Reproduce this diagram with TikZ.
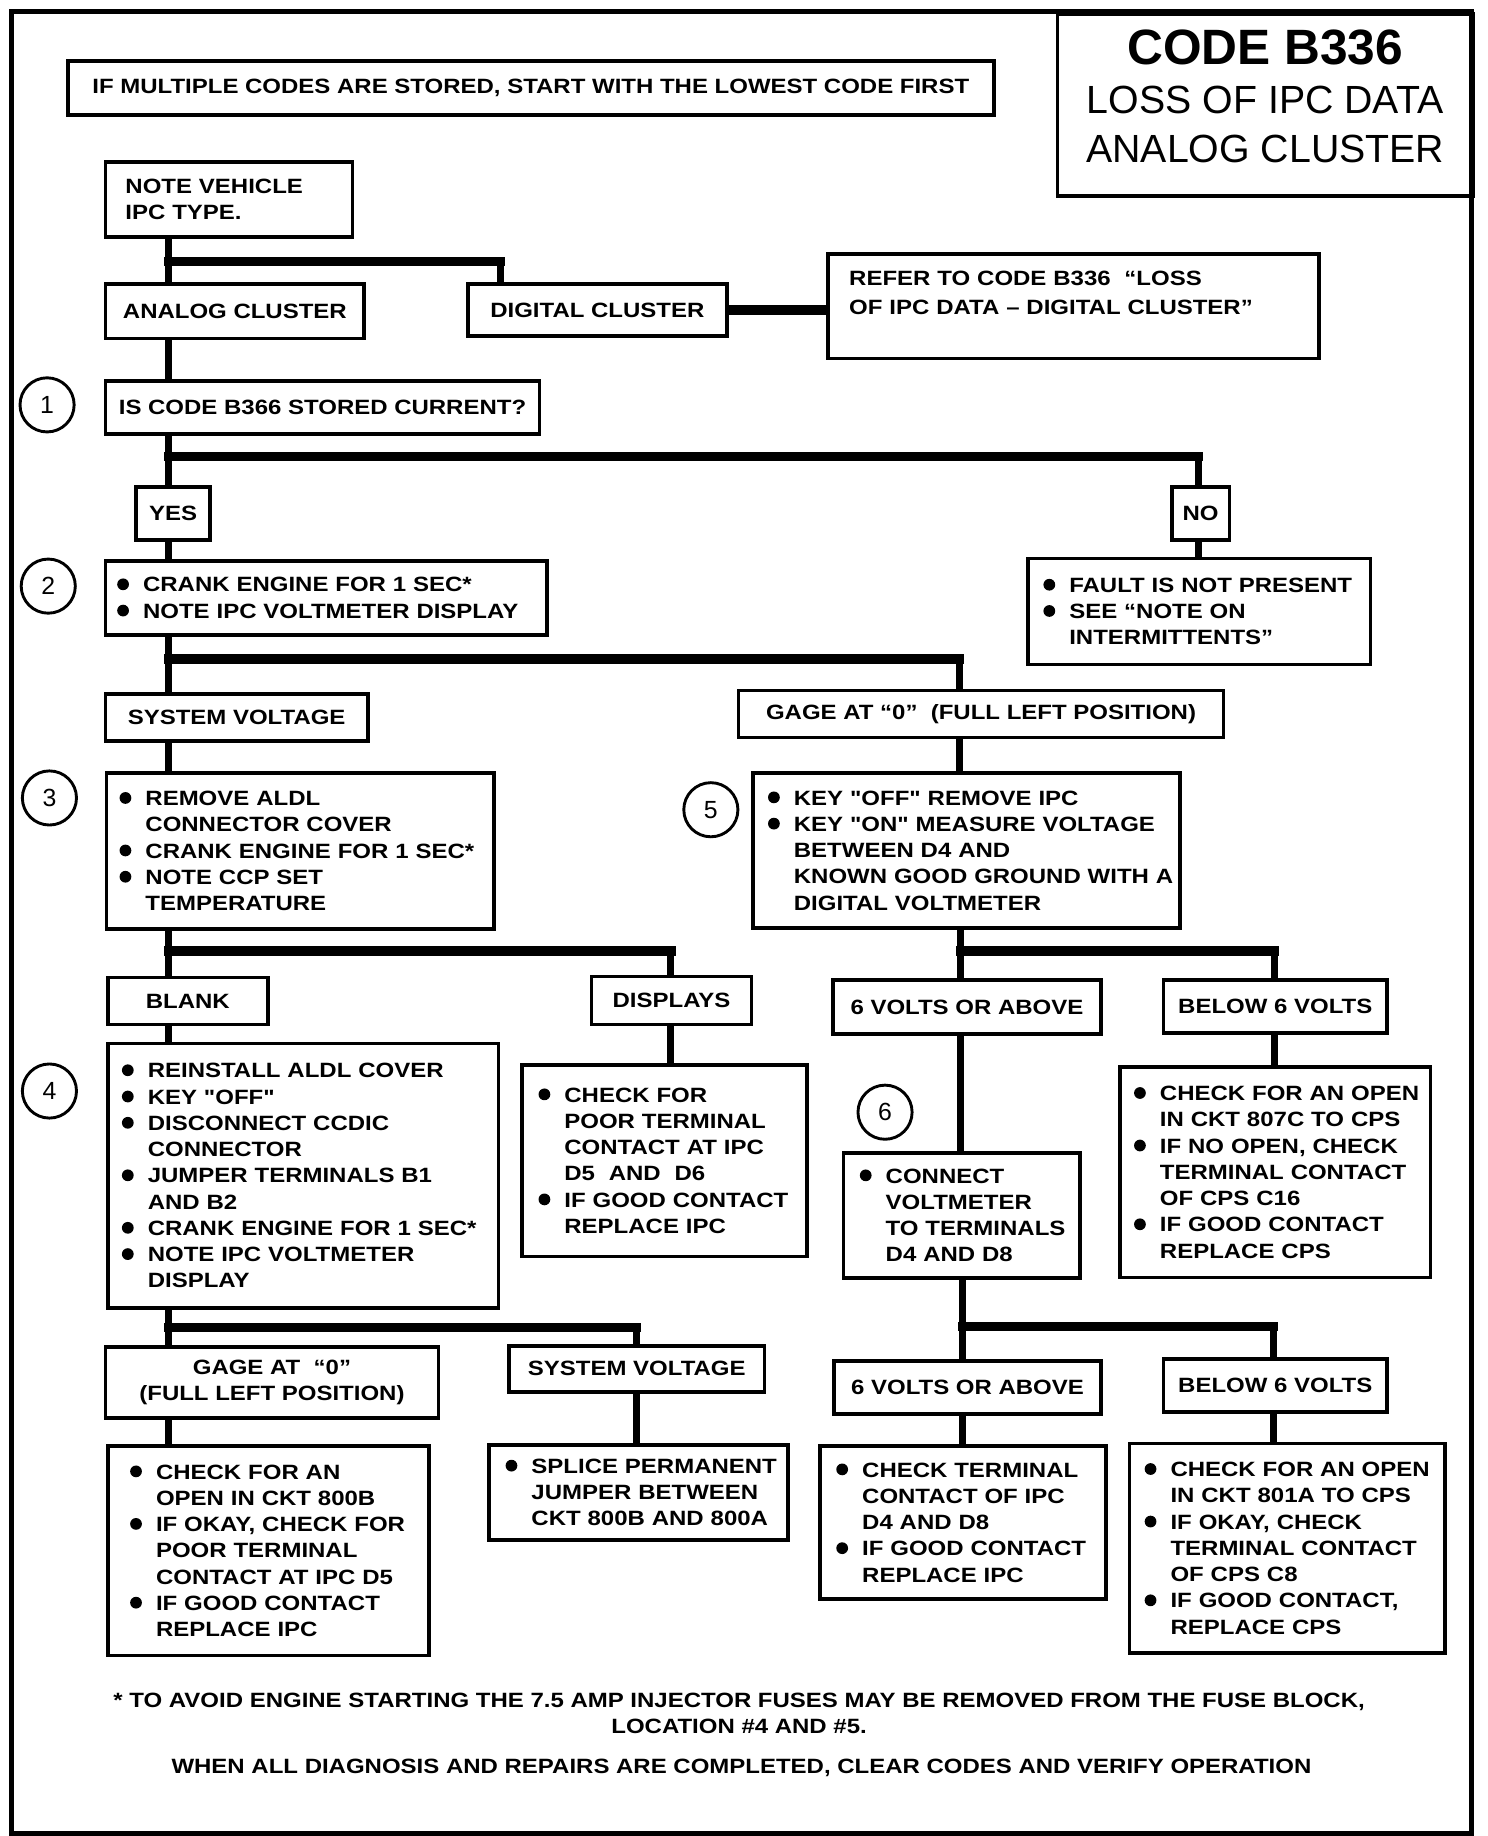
\documentclass[tikz,border=0pt]{standalone}
\usepackage{fontspec}
\setmainfont{Liberation Sans}
\newfontfamily\anchafont{Liberation Sans}[FakeStretch=1.16]
\newcommand{\cajafont}{\anchafont\bfseries\fontsize{10}{12.7}\selectfont}
% vinetas
\newcommand{\pto}{\makebox[0.44cm][l]{\tikz[baseline=0pt]\fill (0.1cm,0.13cm) circle[radius=0.1cm];}}
\newcommand{\li}[1]{\mbox{\pto#1}}
\newcommand{\lc}[1]{\mbox{\hspace*{0.44cm}#1}}
\tikzset{
	caja/.style={draw, line width=1.8pt, inner sep=0pt, font=\cajafont, anchor=north west, align=center},
	lista/.style={caja, align=left},
	paso/.style={draw, circle, line width=1.4pt, minimum size=0.92cm, inner sep=0pt, font=\fontsize{12}{12}\selectfont},
	tallo/.style={line width=3.4pt},
	barra/.style={line width=4.6pt, line cap=rect},
	marco/.style={line width=2.3pt}
}
\begin{document}
\begin{tikzpicture}[x=0.02cm, y=-0.02cm]
			\useasboundingbox (0,0) rectangle (1264,1560);
			% Marco
				\draw[marco] (10,10) rectangle (1250,1558);
				\node[caja, minimum width=7.06cm, minimum height=3.1cm, text depth=0.3cm, font=\fontsize{19}{23.6}\selectfont] (titulo) at (897,10) {{\fontsize{24}{23.6}\selectfont\bfseries CODE B336}\\LOSS OF IPC DATA\\ANALOG CLUSTER};
				\node[caja, minimum width=15.74cm, minimum height=0.92cm] (aviso) at (56,50) {IF MULTIPLE CODES ARE STORED, START WITH THE LOWEST CODE FIRST};
			
			% Tipo de IPC
				\node[lista, minimum width=4.2cm, minimum height=1.28cm, text width=3.52cm, inner xsep=0.34cm] (tipo) at (88,136) {NOTE VEHICLE\\IPC TYPE.};
				\node[caja, minimum width=4.4cm, minimum height=0.92cm] (analogo) at (88,240) {ANALOG CLUSTER};
				\node[caja, minimum width=4.4cm, minimum height=0.88cm] (digital) at (396,240) {DIGITAL CLUSTER};
				\node[lista, minimum width=8.34cm, minimum height=1.78cm, text width=7.62cm, inner xsep=0.36cm] (referir) at (702,214) {REFER TO CODE B336~~“LOSS\\[1.5pt]OF IPC DATA – DIGITAL CLUSTER”\\\mbox{}};
			
			% Pasos 1 y 2
				\node[paso] (p1) at (40,344) {1};
				\node[caja, minimum width=7.38cm, minimum height=0.9cm] (pregunta) at (88,322) {IS CODE B366 STORED CURRENT?};
				\node[caja, minimum width=1.26cm, minimum height=0.9cm] (si) at (114,412) {YES};
				\node[caja, minimum width=0.98cm, minimum height=0.9cm] (no) at (994,412) {NO};
				\node[paso] (p2) at (41,498) {2};
				\node[lista, minimum width=7.5cm, minimum height=1.26cm, text width=7.1cm, inner xsep=0.2cm] (arranque) at (88,475) {\li{CRANK ENGINE FOR 1 SEC*}\\\li{NOTE IPC VOLTMETER DISPLAY}};
				\node[lista, minimum width=5.82cm, minimum height=1.8cm, text width=5.3cm, inner xsep=0.26cm] (falla) at (872,473) {\li{FAULT IS NOT PRESENT}\\\li{SEE “NOTE ON}\\\lc{INTERMITTENTS”}};
				\node[caja, minimum width=4.46cm, minimum height=0.8cm] (sistema) at (88,588) {SYSTEM VOLTAGE};
				\node[caja, minimum width=8.24cm, minimum height=0.8cm] (cero) at (626,585) {GAGE AT “0”~~(FULL LEFT POSITION)};
			
			% Pasos 3 y 5
				\node[paso] (p3) at (42,678) {3};
				\node[lista, minimum width=6.58cm, minimum height=2.66cm, text width=6.14cm, inner xsep=0.22cm] (aldl) at (89,655) {\li{REMOVE ALDL}\\\lc{CONNECTOR COVER}\\\li{CRANK ENGINE FOR 1 SEC*}\\\li{NOTE CCP SET}\\\lc{TEMPERATURE}};
				\node[paso] (p5) at (604,688) {5};
				\node[lista, minimum width=7.26cm, minimum height=2.64cm, text width=6.74cm, inner xsep=0.26cm] (medir) at (638,655) {\li{KEY "OFF" REMOVE IPC}\\\li{KEY "ON" MEASURE VOLTAGE}\\\lc{BETWEEN D4 AND}\\\lc{KNOWN GOOD GROUND WITH A}\\\lc{DIGITAL VOLTMETER}};
				\node[caja, minimum width=2.72cm, minimum height=0.8cm] (blanco) at (90,829) {BLANK};
				\node[caja, minimum width=2.72cm, minimum height=0.82cm] (muestra) at (501,828) {DISPLAYS};
				\node[caja, minimum width=4.56cm, minimum height=0.92cm] (seisv) at (706,831) {6 VOLTS OR ABOVE};
				\node[caja, minimum width=3.8cm, minimum height=0.9cm] (bajo) at (987,831) {BELOW 6 VOLTS};
			
			% Pasos 4 y 6
				\node[paso] (p4) at (42,927) {4};
				\node[lista, minimum width=6.64cm, minimum height=4.5cm, text width=6.16cm, inner xsep=0.24cm] (reinstalar) at (90,885) {\li{REINSTALL ALDL COVER}\\\li{KEY "OFF"}\\\li{DISCONNECT CCDIC}\\\lc{CONNECTOR}\\\li{JUMPER TERMINALS B1}\\\lc{AND B2}\\\li{CRANK ENGINE FOR 1 SEC*}\\\li{NOTE IPC VOLTMETER}\\\lc{DISPLAY}};
				\node[lista, minimum width=4.84cm, minimum height=3.26cm, text width=4.28cm, inner xsep=0.28cm] (contacto) at (442,903) {\li{CHECK FOR}\\\lc{POOR TERMINAL}\\\lc{CONTACT AT IPC}\\\lc{D5~~AND~~D6}\\\li{IF GOOD CONTACT}\\\lc{REPLACE IPC}};
				\node[lista, minimum width=5.28cm, minimum height=3.58cm, text width=4.8cm, inner xsep=0.24cm] (abierto) at (950,905) {\li{CHECK FOR AN OPEN}\\\lc{IN CKT 807C TO CPS}\\\li{IF NO OPEN, CHECK}\\\lc{TERMINAL CONTACT}\\\lc{OF CPS C16}\\\li{IF GOOD CONTACT}\\\lc{REPLACE CPS}};
				\node[paso] (p6) at (752,945) {6};
				\node[lista, minimum width=4.02cm, minimum height=2.12cm, text width=3.46cm, inner xsep=0.28cm] (conectar) at (715,978) {\li{CONNECT}\\\lc{VOLTMETER}\\\lc{TO TERMINALS}\\\lc{D4 AND D8}};
				\node[caja, minimum width=4.54cm, minimum height=0.9cm] (seisvb) at (707,1155) {6 VOLTS OR ABOVE};
				\node[caja, minimum width=3.8cm, minimum height=0.9cm] (bajob) at (987,1153) {BELOW 6 VOLTS};
				\node[caja, minimum width=5.66cm, minimum height=1.2cm] (cerob) at (88,1143) {GAGE AT~~“0”\\(FULL LEFT POSITION)};
				\node[caja, minimum width=4.34cm, minimum height=0.78cm] (sistemab) at (431,1142) {SYSTEM VOLTAGE};
			
			% Reparaciones
				\node[lista, minimum width=5.46cm, minimum height=3.56cm, text width=4.7cm, inner xsep=0.38cm] (revisar) at (90,1227) {\li{CHECK FOR AN}\\\lc{OPEN IN CKT 800B}\\\li{IF OKAY, CHECK FOR}\\\lc{POOR TERMINAL}\\\lc{CONTACT AT IPC D5}\\\li{IF GOOD CONTACT}\\\lc{REPLACE IPC}};
				\node[lista, minimum width=5.08cm, minimum height=1.62cm, text width=4.52cm, inner xsep=0.28cm] (empalme) at (414,1226) {\li{SPLICE PERMANENT}\\\lc{JUMPER BETWEEN}\\\lc{CKT 800B AND 800A}};
				\node[lista, minimum width=4.86cm, minimum height=2.6cm, text width=4.3cm, inner xsep=0.28cm] (terminal) at (695,1227) {\li{CHECK TERMINAL}\\\lc{CONTACT OF IPC}\\\lc{D4 AND D8}\\\li{IF GOOD CONTACT}\\\lc{REPLACE IPC}};
				\node[lista, minimum width=5.36cm, minimum height=3.56cm, text width=4.84cm, inner xsep=0.26cm] (abiertob) at (958,1225) {\li{CHECK FOR AN OPEN}\\\lc{IN CKT 801A TO CPS}\\\li{IF OKAY, CHECK}\\\lc{TERMINAL CONTACT}\\\lc{OF CPS C8}\\\li{IF GOOD CONTACT,}\\\lc{REPLACE CPS}};
			
			% Notas
				\node[font=\cajafont, align=center] (nota) at (628,1456) {* TO AVOID ENGINE STARTING THE 7.5 AMP INJECTOR FUSES MAY BE REMOVED FROM THE FUSE BLOCK,\\LOCATION \#4 AND \#5.};
				\node[font=\cajafont] (final) at (630,1502) {WHEN ALL DIAGNOSIS AND REPAIRS ARE COMPLETED, CLEAR CODES AND VERIFY OPERATION};
			
			% Conectores
				\coordinate (r0) at (143,222);
				\coordinate (r0d) at (425,222);
				\draw[tallo] (tipo.south -| r0) -- (analogo.north -| r0);
				\draw[barra] (r0) -- (r0d);
				\draw[tallo] (r0d) -- (r0d |- digital.north);
				\draw[barra, line cap=butt] (digital.east) -- (referir.west |- digital.east);
				\draw[tallo] (analogo.south -| r0) -- (pregunta.north -| r0);
				
				\coordinate (r1) at (143,388);
				\coordinate (r1n) at (1018,388);
				\draw[tallo] (pregunta.south -| r1) -- (si.north -| r1);
				\draw[barra] (r1) -- (r1n);
				\draw[tallo] (r1n) -- (no.north -| r1n);
				\draw[tallo] (si.south -| r1) -- (arranque.north -| r1);
				\draw[tallo] (no.south -| r1n) -- (falla.north -| r1n);
				
				\coordinate (r2) at (143,560);
				\coordinate (r2g) at (815,560);
				\draw[tallo] (arranque.south -| r2) -- (sistema.north -| r2);
				\draw[barra] (r2) -- (r2g);
				\draw[tallo] (r2g) -- (cero.north -| r2g);
				\draw[tallo] (sistema.south -| r2) -- (aldl.north -| r2);
				\draw[tallo] (cero.south -| r2g) -- (medir.north -| r2g);
				
				\coordinate (r3) at (143,808);
				\coordinate (r3d) at (570,808);
				\draw[tallo] (aldl.south -| r3) -- (blanco.north -| r3);
				\draw[barra] (r3) -- (r3d);
				\draw[tallo] (r3d) -- (muestra.north -| r3d);
				\draw[tallo] (blanco.south -| r3) -- (reinstalar.north -| r3);
				\draw[tallo] (muestra.south -| r3d) -- (contacto.north -| r3d);
				
				\coordinate (r5) at (816,808);
				\coordinate (r5b) at (1083,808);
				\draw[tallo] (medir.south -| r5) -- (seisv.north -| r5);
				\draw[barra] (r5) -- (r5b);
				\draw[tallo] (r5b) -- (bajo.north -| r5b);
				\draw[tallo] (seisv.south -| r5) -- (conectar.north -| r5);
				\draw[tallo] (bajo.south -| r5b) -- (abierto.north -| r5b);
				
				\coordinate (r6) at (818,1127);
				\coordinate (r6b) at (1082,1127);
				\draw[tallo] (conectar.south -| r6) -- (seisvb.north -| r6);
				\draw[barra] (r6) -- (r6b);
				\draw[tallo] (r6b) -- (bajob.north -| r6b);
				\draw[tallo] (seisvb.south -| r6) -- (terminal.north -| r6);
				\draw[tallo] (bajob.south -| r6b) -- (abiertob.north -| r6b);
				
				\coordinate (r4) at (143,1128);
				\coordinate (r4s) at (541,1128);
				\draw[tallo] (reinstalar.south -| r4) -- (cerob.north -| r4);
				\draw[barra] (r4) -- (r4s);
				\draw[tallo] (r4s) -- (sistemab.north -| r4s);
				\draw[tallo] (cerob.south -| r4) -- (revisar.north -| r4);
				\draw[tallo] (sistemab.south -| r4s) -- (empalme.north -| r4s);
		\end{tikzpicture}
\end{document}
